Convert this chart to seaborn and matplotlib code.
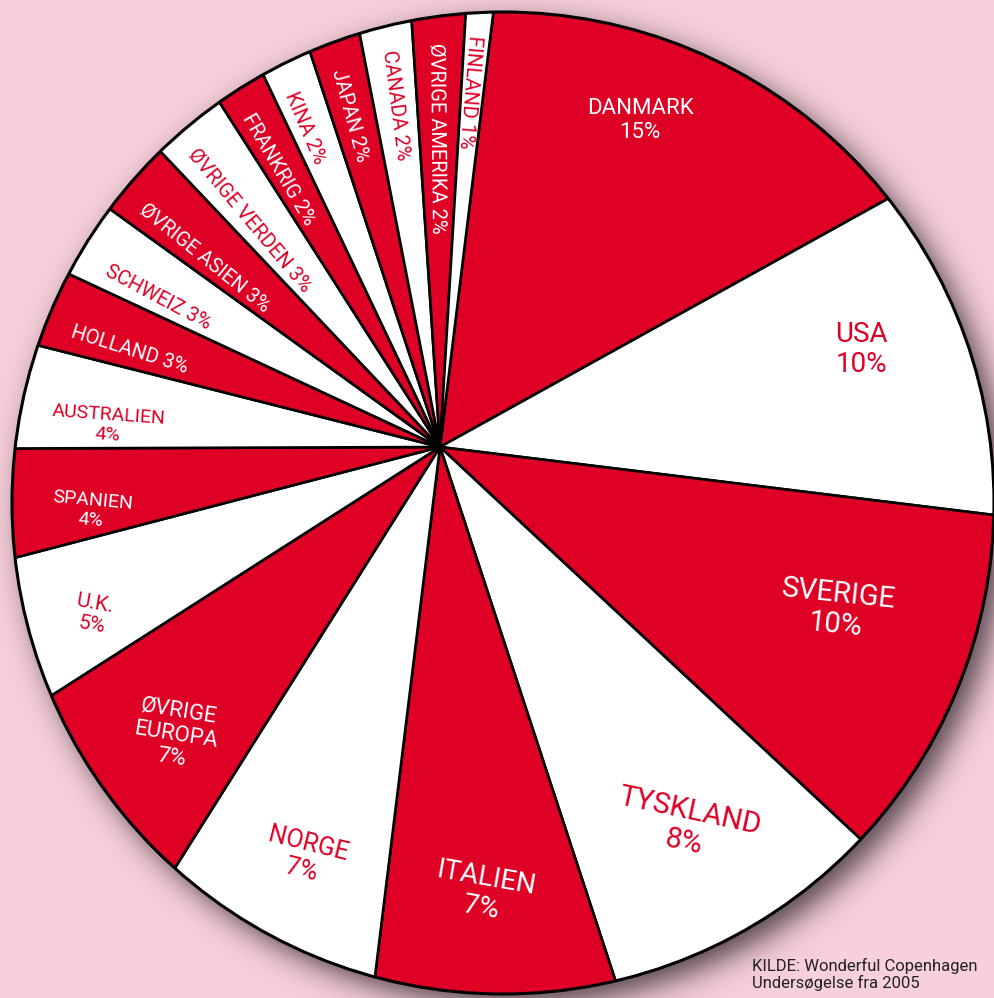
import numpy as np
import matplotlib.pyplot as plt
from matplotlib.patches import Circle
import seaborn as sns

# Data (share of visitors, %)
countries = ["DANMARK", "USA", "SVERIGE", "TYSKLAND", "ITALIEN", "NORGE",
             "ØVRIGE\nEUROPA", "U.K.", "SPANIEN", "AUSTRALIEN", "HOLLAND",
             "SCHWEIZ", "ØVRIGE ASIEN", "ØVRIGE VERDEN", "FRANKRIG", "KINA",
             "JAPAN", "CANADA", "ØVRIGE AMERIKA", "FINLAND"]
shares = [15, 10, 10, 8, 7, 7, 7, 5, 4, 4, 3, 3, 3, 3, 2, 2, 2, 2, 2, 1]
source_lines = ["KILDE: Wonderful Copenhagen", "Undersøgelse fra 2005"]

# Label styling (distance from the pie apex in px, angular nudge, rotation, size)
n_flat = 10  # first slices get horizontal-ish stacked labels
label_radius = [383, 433, 429, 453, 448, 432, 391, 385, 354, 333,
                325, 319, 302, 296, 321, 346, 344, 345, 309, 356]
label_shift = [2.5, 2, 2.7, 0.4, 0, 1.4, 2.2, 2.2, 2.9, 3.2,
               2.2, 2.4, 2.4, 2, 1.3, 1.2, 0.6, 0, 0.4, 0.4]
flat_rotation = [0, 0, -6, -12, -10, -14, -9, -10, -5, -4]
flat_size = [16, 20, 21, 21, 20, 18, 16, 15, 14, 14]
small_size = 14.5

RED = "#DE0025"
WHITE = "#FFFFFF"
BG = "#F7D0DB"

sns.set_style("white")
plt.rcParams["font.family"] = ["Roboto", "DejaVu Sans"]

W, H = 994, 998
fig = plt.figure(figsize=(W / 100, H / 100), dpi=100)
fig.patch.set_facecolor(BG)
ax = fig.add_axes([0, 0, 1, 1])
ax.set_facecolor(BG)

apex = (440, H - 447)
disc_c = (503, H - 503)
disc_r = 491

# soft drop shadow behind the disc
X, Y = np.meshgrid(np.arange(W) + 0.5, np.arange(H) + 0.5)
d = np.hypot(X - (disc_c[0] + 11), Y - (disc_c[1] - 11))
alpha = 0.9 / (1 + np.exp((d - disc_r) / 9.0))
shadow = np.zeros((H, W, 4))
shadow[..., 0] = 65 / 255
shadow[..., 1] = 50 / 255
shadow[..., 2] = 58 / 255
shadow[..., 3] = alpha
ax.imshow(shadow, extent=(0, W, 0, H), origin="lower", zorder=0)

palette = sns.color_palette([RED, WHITE])
colors = [palette[i % 2] for i in range(len(shares))]

wedges, _ = ax.pie(shares, colors=colors, startangle=83, counterclock=False,
                   radius=640, center=apex,
                   wedgeprops=dict(edgecolor="black", linewidth=1.9))

clip = Circle(disc_c, disc_r, transform=ax.transData)
for w in wedges:
    w.set_clip_on(True)
    w.set_clip_path(clip)
    w.set_zorder(2)
ax.add_patch(Circle(disc_c, disc_r, facecolor="none", edgecolor="black",
                    linewidth=2.2, zorder=3))

for i, (w, name, v) in enumerate(zip(wedges, countries, shares)):
    mid = (w.theta1 + w.theta2) / 2 + label_shift[i]
    rad = np.deg2rad(mid)
    x = apex[0] + label_radius[i] * np.cos(rad)
    y = apex[1] + label_radius[i] * np.sin(rad)
    tc = WHITE if i % 2 == 0 else RED
    if i < n_flat:
        txt = f"{name}\n{v}%"
        rot = flat_rotation[i]
        fs = flat_size[i]
    else:
        txt = f"{name} {v}%"
        rot = ((mid + 180 + 180) % 360) - 180
        fs = small_size
    ax.text(x, y, txt, color=tc, fontsize=fs, rotation=rot,
            rotation_mode="anchor", ha="center", va="center",
            multialignment="center", linespacing=1.15, zorder=4)

ax.text(752, H - 958, "\n".join(source_lines), fontsize=12, color="#222222",
        ha="left", va="top", linespacing=1.1, zorder=4)

ax.set_xlim(0, W)
ax.set_ylim(0, H)
ax.set_aspect("auto")
ax.axis("off")

fig.savefig("out.png", dpi=100, facecolor=BG)
plt.close(fig)
